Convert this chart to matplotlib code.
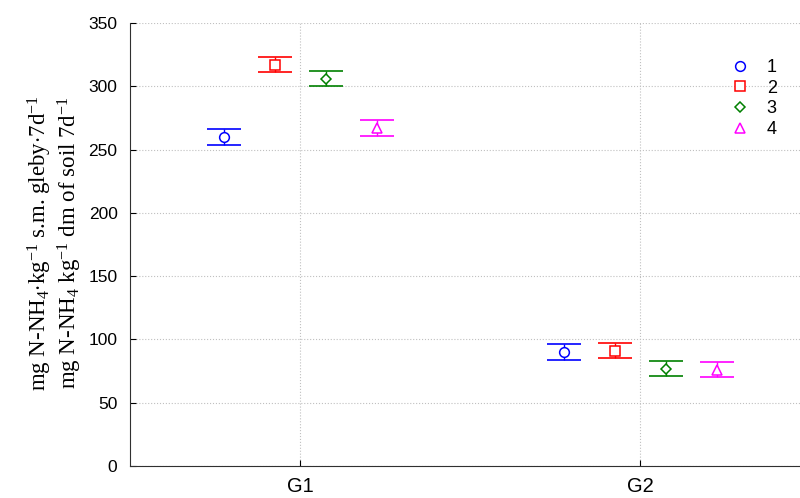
import numpy as np
import matplotlib
matplotlib.use('Agg')
import matplotlib.pyplot as plt

plt.rcParams['font.family'] = 'Liberation Sans'
plt.rcParams['mathtext.fontset'] = 'custom'
plt.rcParams['mathtext.rm'] = 'Liberation Serif'
plt.rcParams['mathtext.it'] = 'Liberation Serif:italic'

groups = ['G1', 'G2']
series = ['1', '2', '3', '4']
means = {
    '1': [260, 90],
    '2': [317, 91],
    '3': [306, 77],
    '4': [267, 76],
}
lower = {
    '1': [254, 84],
    '2': [311, 85],
    '3': [300, 71],
    '4': [261, 70],
}
upper = {
    '1': [266, 96],
    '2': [323, 97],
    '3': [312, 83],
    '4': [273, 82],
}
colors = ['#0000ff', '#ff0000', '#008000', '#ff00ff']
markers = ['o', 's', 'D', '^']
msizes = [7, 7, 5.5, 6.5]
offsets = [-0.225, -0.075, 0.075, 0.225]

fig = plt.figure(figsize=(8, 4.98), dpi=100)
ax = fig.add_axes([130 / 800, 32 / 498, 680 / 800, 443 / 498])

x = np.arange(len(groups))
for i, s in enumerate(series):
    m = np.array(means[s])
    err = [m - np.array(lower[s]), np.array(upper[s]) - m]
    ax.errorbar(x + offsets[i], m, yerr=err, fmt='none', ecolor=colors[i],
                elinewidth=1, capsize=12.5, capthick=1.2, zorder=3)
    ax.plot(x + offsets[i], m, linestyle='none', marker=markers[i],
            markersize=msizes[i], markerfacecolor='white', markeredgecolor=colors[i],
            markeredgewidth=1.1, label=s, zorder=4)

ax.set_xlim(-0.5, 1.5)
ax.set_ylim(0, 350)
ax.set_xticks(x)
ax.set_xticklabels(groups, fontsize=14.5)
ax.set_yticks(np.arange(0, 351, 50))
ax.tick_params(axis='y', labelsize=12.5, length=4, direction='in', pad=9)
ax.tick_params(axis='x', length=4, direction='in', pad=8)
ax.grid(True, linestyle=':', color='#c0c0c0', linewidth=0.8)
ax.set_axisbelow(True)
for sp in ['top', 'right']:
    ax.spines[sp].set_visible(False)
for sp in ['left', 'bottom']:
    ax.spines[sp].set_color('#303030')

ax.legend(loc='upper right', bbox_to_anchor=(0.975, 0.955), frameon=False,
          fontsize=13, handletextpad=1.0, labelspacing=0.2, handlelength=1)

ylab = ('mg N-NH$_4$$\\cdot$kg$^{-1}$ s.m. gleby$\\cdot$7d$^{-1}$\n'
        'mg N-NH$_4$ kg$^{-1}$ dm of soil 7d$^{-1}$')
fig.text(55 / 800, 0.512, ylab, rotation=90, ha='center', va='center',
         fontsize=16.5, family='Liberation Serif', linespacing=1.1)

fig.savefig('out.png', dpi=100)
